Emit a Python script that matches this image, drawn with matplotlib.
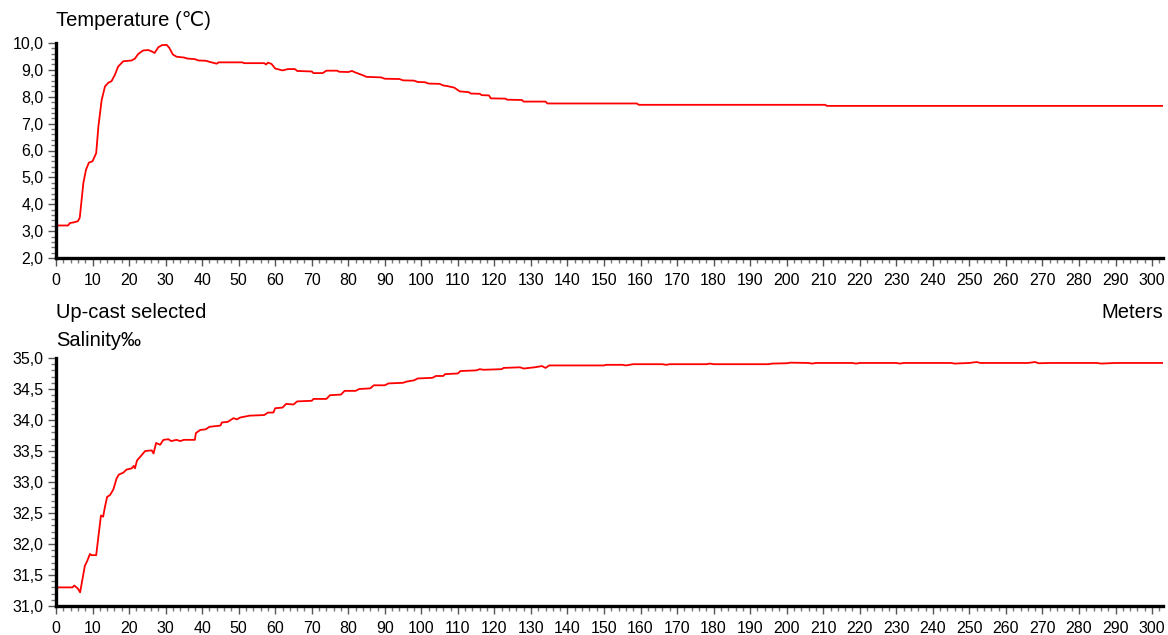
import matplotlib
matplotlib.use('Agg')
import matplotlib.pyplot as plt
from matplotlib.ticker import MultipleLocator, FuncFormatter

plt.rcParams['font.family'] = ['Liberation Sans', 'DejaVu Sans']

# Temperature profile (depth in meters, value in deg C)
temp_depth = [0, 3.3, 3.8, 5, 6, 6.5, 7.5, 8.2, 9, 10, 11, 11.6, 12.5, 13.4, 14.3, 15.2,
              16.1, 17, 18.4, 20.7, 21.6, 22.5, 23.8, 25.2, 26, 27, 28, 29, 30.3, 31, 32,
              33, 35, 36, 38, 39, 41, 42, 44, 44.5, 51, 51.5, 57, 57.5, 58, 59, 60, 62,
              63.5, 65.4, 66, 70, 70.5, 73, 74, 77, 77.5, 80, 81, 82, 84, 85, 89, 90, 94,
              95, 98, 99, 101, 102, 105, 106, 107, 109, 110.5, 113, 113.5, 116, 116.5,
              118.5, 119, 123, 123.5, 127.5, 128, 134, 134.5, 159, 159.5, 210.5, 211, 303]
temp_value = [3.21, 3.21, 3.3, 3.33, 3.37, 3.5, 4.8, 5.28, 5.55, 5.6, 5.9, 6.89, 7.88, 8.38,
              8.52, 8.58, 8.81, 9.12, 9.32, 9.35, 9.42, 9.59, 9.72, 9.74, 9.7, 9.63, 9.84,
              9.92, 9.93, 9.82, 9.57, 9.49, 9.46, 9.42, 9.4, 9.35, 9.34, 9.3, 9.23, 9.28,
              9.28, 9.25, 9.25, 9.2, 9.27, 9.22, 9.05, 8.98, 9.03, 9.03, 8.96, 8.94, 8.88,
              8.88, 8.97, 8.97, 8.93, 8.92, 8.96, 8.9, 8.8, 8.74, 8.72, 8.67, 8.66, 8.61,
              8.6, 8.55, 8.54, 8.49, 8.48, 8.42, 8.4, 8.34, 8.2, 8.17, 8.12, 8.11, 8.06,
              8.05, 7.94, 7.93, 7.89, 7.88, 7.82, 7.82, 7.75, 7.75, 7.7, 7.7, 7.66, 7.66]

# Salinity profile (depth in meters, value in per mille)
sal_depth = [0, 4.5, 5, 6, 6.6, 7.2, 7.9, 8.5, 9.3, 9.7, 11, 11.6, 12.3, 12.9, 13.4, 14,
             14.8, 15.7, 16.6, 17.2, 18.4, 19.3, 20.7, 21.3, 21.6, 22.2, 23.4, 24.4, 26.2,
             26.7, 27.4, 28.5, 29.4, 30.8, 31.5, 33, 34, 35, 38, 38.3, 39.5, 41, 42, 45,
             45.4, 47, 48.6, 49.5, 50.4, 53, 57, 58, 59.5, 60, 62, 63, 65, 66, 70, 70.5,
             74, 75, 78, 79, 82, 83, 86, 87, 90, 91, 95, 96, 97, 98, 99, 103, 104, 106,
             106.5, 110, 110.7, 115, 116, 117, 122, 122.5, 127, 128, 131, 133, 134, 135,
             150, 150.5, 155, 156, 158, 166, 167, 168, 178, 179, 180, 195, 196, 200, 201,
             206, 207, 208, 218, 219, 220, 230, 231, 232, 245, 246, 250, 252, 253, 266,
             268, 269, 272, 285, 286, 290, 303]
sal_value = [31.3, 31.3, 31.33, 31.28, 31.22, 31.42, 31.65, 31.72, 31.84, 31.82, 31.82,
             32.12, 32.46, 32.44, 32.6, 32.76, 32.79, 32.88, 33.06, 33.12, 33.15, 33.2,
             33.22, 33.26, 33.22, 33.35, 33.43, 33.5, 33.51, 33.46, 33.63, 33.6, 33.68,
             33.69, 33.66, 33.68, 33.66, 33.68, 33.68, 33.79, 33.84, 33.85, 33.89, 33.91,
             33.96, 33.97, 34.03, 34.01, 34.04, 34.07, 34.08, 34.12, 34.12, 34.19, 34.2,
             34.26, 34.25, 34.3, 34.31, 34.34, 34.34, 34.4, 34.41, 34.47, 34.47, 34.5,
             34.51, 34.56, 34.56, 34.59, 34.6, 34.62, 34.63, 34.64, 34.67, 34.68, 34.71,
             34.71, 34.74, 34.75, 34.79, 34.8, 34.82, 34.81, 34.82, 34.84, 34.85, 34.83,
             34.85, 34.87, 34.84, 34.88,
             34.88, 34.89, 34.89, 34.88, 34.9, 34.9, 34.89, 34.9, 34.9, 34.91, 34.9,
             34.9, 34.91, 34.915, 34.925, 34.92, 34.91, 34.92, 34.92, 34.91, 34.92,
             34.92, 34.91, 34.92, 34.92, 34.91, 34.92, 34.935, 34.92, 34.92, 34.935,
             34.915, 34.92, 34.92, 34.91, 34.92, 34.92]

comma = FuncFormatter(lambda v, p: f'{v:.1f}'.replace('.', ','))


def style_axis(ax, ylim, ymajor, yminor):
    ax.set_xlim(0, 303)
    ax.set_ylim(*ylim)
    for s in ['top', 'right']:
        ax.spines[s].set_visible(False)
    for s in ['left', 'bottom']:
        ax.spines[s].set_linewidth(2.4)
        ax.spines[s].set_color('black')
    ax.xaxis.set_major_locator(MultipleLocator(10))
    ax.xaxis.set_minor_locator(MultipleLocator(2))
    ax.yaxis.set_major_locator(MultipleLocator(ymajor))
    ax.yaxis.set_minor_locator(MultipleLocator(yminor))
    ax.yaxis.set_major_formatter(comma)
    ax.tick_params(which='major', length=6, width=1, color='#555555', labelsize=11.5, pad=3)
    ax.tick_params(axis='x', which='major', pad=5)
    ax.tick_params(which='minor', length=3.5, width=1, color='#777777')


fig = plt.figure(figsize=(11.68, 6.35), dpi=100)

ax1 = fig.add_axes([56 / 1168, 1 - 258 / 635, 1107 / 1168, 215 / 635])
ax1.plot(temp_depth, temp_value, color='#ff0000', lw=1.3)
style_axis(ax1, (2, 10), 1, 0.2)

ax2 = fig.add_axes([56 / 1168, 1 - 606 / 635, 1107 / 1168, 248 / 635])
ax2.plot(sal_depth, sal_value, color='#ff0000', lw=1.3)
style_axis(ax2, (31, 35), 0.5, 0.1)

fig.text(56 / 1168, 1 - 21 / 635, 'Temperature (\u2103)', fontsize=14.5, va='center', ha='left')
fig.text(56 / 1168, 1 - 312 / 635, 'Up-cast selected', fontsize=14.5, va='center', ha='left')
fig.text(56 / 1168, 1 - 340 / 635, 'Salinity\u2030', fontsize=14.5, va='center', ha='left')
fig.text(1163 / 1168, 1 - 312 / 635, 'Meters', fontsize=14.5, va='center', ha='right')

fig.savefig('out.png', dpi=100)
